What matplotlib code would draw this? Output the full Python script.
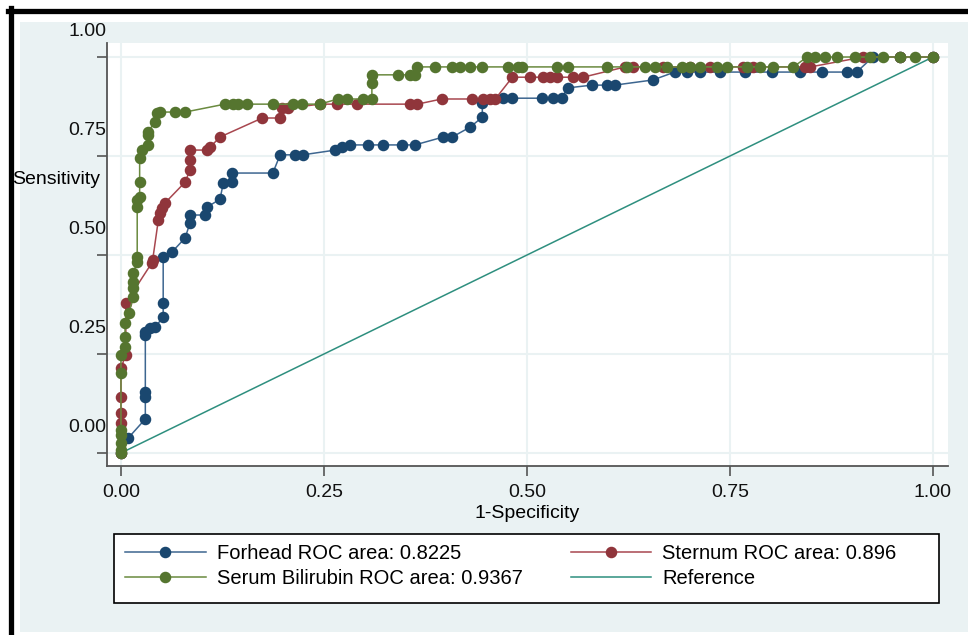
import matplotlib
matplotlib.use("Agg")
import matplotlib.pyplot as plt
from matplotlib.lines import Line2D
from matplotlib.patches import Rectangle
from matplotlib.transforms import ScaledTranslation

plt.rcParams['font.family'] = ['Liberation Sans', 'DejaVu Sans']

# ROC points (1-specificity, sensitivity)
forhead_fpr = [0, 0.009, 0.030, 0.030, 0.030, 0.030, 0.030, 0.036, 0.042, 0.052, 0.052, 0.052,
               0.063, 0.079, 0.085, 0.085, 0.103, 0.106, 0.122, 0.126, 0.137, 0.137, 0.187, 0.196,
               0.214, 0.224, 0.264, 0.272, 0.282, 0.304, 0.323, 0.346, 0.362, 0.397, 0.408, 0.430,
               0.445, 0.445, 0.470, 0.482, 0.518, 0.532, 0.543, 0.550, 0.580, 0.599, 0.608, 0.655,
               0.682, 0.697, 0.713, 0.738, 0.768, 0.802, 0.836, 0.863, 0.894, 0.906, 0.926, 0.959, 1.0]
forhead_tpr = [0, 0.038, 0.086, 0.141, 0.154, 0.298, 0.306, 0.316, 0.318, 0.343, 0.379, 0.495,
               0.508, 0.543, 0.581, 0.601, 0.601, 0.621, 0.641, 0.682, 0.684, 0.707, 0.707, 0.753,
               0.753, 0.753, 0.765, 0.773, 0.778, 0.778, 0.778, 0.778, 0.778, 0.798, 0.798, 0.823,
               0.848, 0.884, 0.896, 0.896, 0.896, 0.896, 0.896, 0.922, 0.929, 0.929, 0.929, 0.942,
               0.962, 0.962, 0.962, 0.962, 0.962, 0.962, 0.962, 0.962, 0.962, 0.962, 1.0, 1.0, 1.0]

sternum_fpr = [0, 0, 0, 0, 0, 0.006, 0.006, 0.038, 0.039, 0.046, 0.048, 0.050, 0.054, 0.079,
               0.085, 0.085, 0.085, 0.106, 0.110, 0.122, 0.174, 0.196, 0.198, 0.206, 0.245, 0.266,
               0.291, 0.356, 0.365, 0.395, 0.432, 0.446, 0.454, 0.461, 0.482, 0.504, 0.520, 0.528,
               0.537, 0.557, 0.569, 0.621, 0.631, 0.667, 0.701, 0.725, 0.766, 0.778, 0.842, 0.849,
               0.914, 0.959, 1.0]
sternum_tpr = [0, 0.076, 0.101, 0.141, 0.215, 0.247, 0.379, 0.480, 0.487, 0.588, 0.606, 0.619,
               0.631, 0.684, 0.715, 0.740, 0.765, 0.765, 0.773, 0.798, 0.846, 0.846, 0.871, 0.871,
               0.881, 0.881, 0.881, 0.881, 0.881, 0.894, 0.894, 0.894, 0.894, 0.894, 0.949, 0.949,
               0.949, 0.949, 0.949, 0.949, 0.949, 0.975, 0.975, 0.975, 0.975, 0.975, 0.975, 0.975,
               0.975, 0.975, 1.0, 1.0, 1.0]

serum_fpr = [0, 0, 0, 0, 0, 0, 0, 0.005, 0.005, 0.005, 0.010, 0.015, 0.015, 0.015, 0.015, 0.020,
             0.020, 0.020, 0.020, 0.023, 0.023, 0.023, 0.026, 0.033, 0.033, 0.033, 0.042, 0.044,
             0.048, 0.067, 0.079, 0.128, 0.138, 0.144, 0.155, 0.187, 0.212, 0.223, 0.245, 0.267,
             0.278, 0.298, 0.309, 0.309, 0.309, 0.341, 0.356, 0.362, 0.365, 0.387, 0.408, 0.417,
             0.430, 0.445, 0.477, 0.489, 0.494, 0.537, 0.550, 0.599, 0.623, 0.645, 0.658, 0.672,
             0.691, 0.701, 0.713, 0.734, 0.746, 0.771, 0.787, 0.803, 0.828, 0.845, 0.855, 0.867,
             0.882, 0.904, 0.922, 0.938, 0.959, 0.978, 1.0]
serum_tpr = [0, 0.008, 0.025, 0.045, 0.058, 0.202, 0.247, 0.268, 0.293, 0.328, 0.354, 0.394,
             0.417, 0.432, 0.455, 0.482, 0.495, 0.621, 0.639, 0.646, 0.684, 0.745, 0.765, 0.778,
             0.803, 0.811, 0.836, 0.859, 0.861, 0.861, 0.861, 0.881, 0.881, 0.881, 0.881, 0.881,
             0.881, 0.881, 0.881, 0.894, 0.894, 0.894, 0.894, 0.934, 0.955, 0.955, 0.955, 0.955,
             0.975, 0.975, 0.975, 0.975, 0.975, 0.975, 0.975, 0.975, 0.975, 0.975, 0.975, 0.975,
             0.975, 0.975, 0.975, 0.975, 0.975, 0.975, 0.975, 0.975, 0.975, 0.975, 0.975, 0.975,
             0.975, 1.0, 1.0, 1.0, 1.0, 1.0, 1.0, 1.0, 1.0, 1.0, 1.0]

ref_x = [0, 1]
ref_y = [0, 1]

labels = ["Forhead ROC area: 0.8225", "Sternum ROC area: 0.896",
          "Serum Bilirubin ROC area: 0.9367", "Reference"]
ticks = [0, 0.25, 0.5, 0.75, 1.0]
tick_labels = ["0.00", "0.25", "0.50", "0.75", "1.00"]

# stata-ish colours
navy, navy_line = "#1A476F", "#3D6690"
maroon, maroon_line = "#90353B", "#A8474F"
green, green_line = "#55752F", "#6A8A3F"
teal = "#2E8F7F"
bg = "#EAF2F3"

W, H = 968, 635
fig = plt.figure(figsize=(W / 100, H / 100), dpi=100)
fig.patch.set_facecolor("white")

# light panel + black frame on top / left
fig.patches.append(Rectangle((20 / W, 1 - 632 / H), 948 / W, 610 / H, transform=fig.transFigure,
                             facecolor=bg, edgecolor="none", zorder=-10))
fig.add_artist(Line2D([8 / W, 1], [1 - 10.5 / H, 1 - 10.5 / H], color="black", lw=3.8,
                      transform=fig.transFigure))
fig.add_artist(Line2D([10.5 / W, 10.5 / W], [0, 1 - 8 / H], color="black", lw=3.8,
                      transform=fig.transFigure))

ax = fig.add_axes([107 / W, 1 - 466 / H, 841 / W, 423 / H])
ax.set_facecolor("white")
ax.set_xlim(-0.0172, 1.0185)
ax.set_ylim(-0.0328, 1.0354)
for s in ["top", "right"]:
    ax.spines[s].set_visible(False)
for s in ["left", "bottom"]:
    ax.spines[s].set_color("#555555")
    ax.spines[s].set_linewidth(1.3)

ax.grid(True, color=bg, lw=1.5)
ax.set_axisbelow(True)

ax.plot(ref_x, ref_y, color=teal, lw=1.1, zorder=2)
mk = dict(marker="o", markersize=7.3, lw=1.1)
ax.plot(forhead_fpr, forhead_tpr, color=navy_line, mfc=navy, mec=navy, zorder=3, **mk)
ax.plot(sternum_fpr, sternum_tpr, color=maroon_line, mfc=maroon, mec=maroon, zorder=4, **mk)
ax.plot(serum_fpr, serum_tpr, color=green_line, mfc=green, mec=green, zorder=5, **mk)

ax.set_xticks(ticks, labels=tick_labels)
ax.set_yticks(ticks, labels=tick_labels)
ax.tick_params(length=7, width=1.2, color="#555555", labelsize=14, labelcolor="#111111")
ax.tick_params(axis="x", pad=6)
ax.tick_params(axis="y", pad=0)
# y labels sit above their ticks in the original
shift = ScaledTranslation(0.09, 0.28, fig.dpi_scale_trans)
for lab in ax.get_yticklabels():
    lab.set_transform(lab.get_transform() + shift)

ax.set_xlabel("1-Specificity", fontsize=14, labelpad=3)
fig.text(12 / W, 1 - 180 / H, "Sensitivity", ha="left", va="center", fontsize=14)

# legend
fig.patches.append(Rectangle((114 / W, 1 - 603 / H), 825 / W, 69 / H, transform=fig.transFigure,
                             facecolor="white", edgecolor="black", lw=1.2, zorder=5))
handles = [
    Line2D([], [], color=navy_line, mfc=navy, mec=navy, **mk),
    Line2D([], [], color=green_line, mfc=green, mec=green, **mk),
    Line2D([], [], color=maroon_line, mfc=maroon, mec=maroon, **mk),
    Line2D([], [], color=teal, lw=1.1),
]
leg = fig.legend(handles, [labels[0], labels[2], labels[1], labels[3]], ncol=2,
                 loc="upper left", bbox_to_anchor=(125 / W, 1 - 544 / H), frameon=False,
                 fontsize=14.5, handlelength=4.0, handletextpad=0.55, columnspacing=2.4,
                 labelspacing=0.3, borderpad=0, borderaxespad=0)
leg.set_zorder(6)

fig.savefig("out.png", dpi=100)
